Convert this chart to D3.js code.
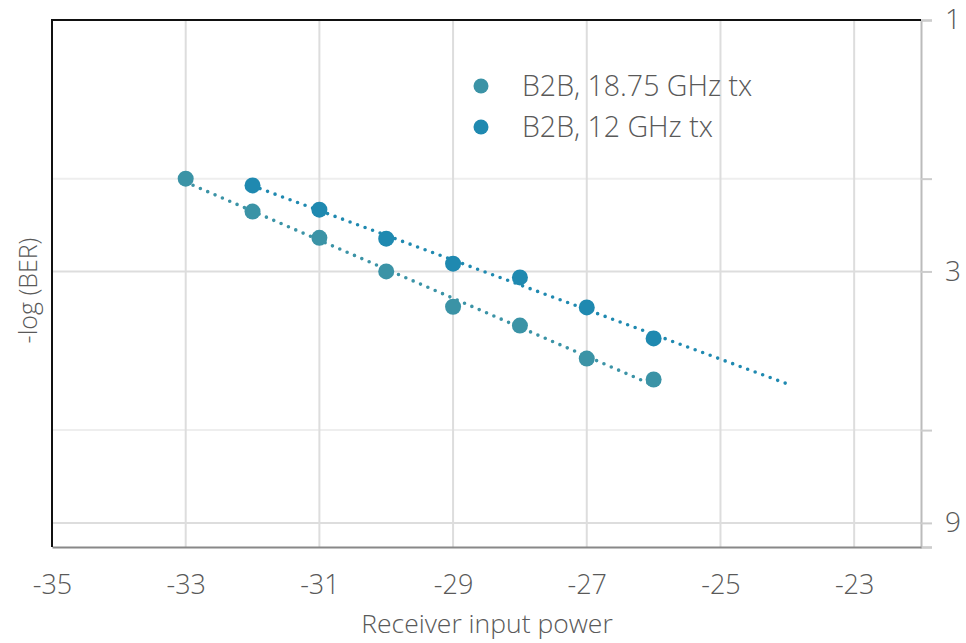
<!DOCTYPE html>
<html>
<head>
<meta charset="utf-8">
<script src="https://cdn.jsdelivr.net/npm/d3@7"></script>
<style>
	body{margin:0;background:#fff;}
	svg text{font-family:"Open Sans", Lato, sans-serif;font-weight:300;fill:#595959;}
</style>
</head>
<body>
<div id="chart"></div>
<script>
//data
let powers18 = [-33, -32, -31, -30, -29, -28, -27, -26];
let ber18 = [2.0, 2.31, 2.59, 3.0, 3.5, 3.8, 4.39, 4.81];

let powers12 = [-32, -31, -30, -29, -28, -27, -26];
let ber12 = [2.06, 2.29, 2.6, 2.9, 3.08, 3.51, 4.02];

let seriesNames = ["B2B, 18.75 GHz tx", "B2B, 12 GHz tx"];
let seriesColors = ["#3b93a6", "#1f89b0"];

let xTicks = [-35, -33, -31, -29, -27, -25, -23];
let yTicks = [1, 2, 3, 6, 9, 10];
let yLabels = [1, 3, 9];

//how far each trendline runs
let trendEnds = [[-33, -26], [-32, -24]];

function graph(){

	let width = 966;
	let height = 643;
	let margin = {top:20, right:45, bottom:96, left:52};

	let svg = d3.select("#chart")
		.append("svg")
		.attr("width", width)
		.attr("height", height);

	const xScale = d3.scaleLinear()
		.domain([-35, -22])
		.range([margin.left, width-margin.right]);

	const yScale = d3.scaleLog()
		.domain([1, 10])
		.range([margin.top, height-margin.bottom]);

	let x0 = xScale.range()[0], x1 = xScale.range()[1];
	let y0 = yScale.range()[0], y1 = yScale.range()[1];

	//horizontal grid
	svg.append("g")
		.selectAll("line")
		.data([2, 3, 6, 9])
		.enter()
		.append("line")
		.attr("x1", x0).attr("x2", x1)
		.attr("y1", d=>yScale(d)).attr("y2", d=>yScale(d))
		.attr("stroke", d=> (d==2 || d==6) ? "#eeeeee" : "#dddddd")
		.attr("stroke-width", 2);

	//vertical grid
	svg.append("g")
		.selectAll("line")
		.data(xTicks.slice(1))
		.enter()
		.append("line")
		.attr("x1", d=>xScale(d)).attr("x2", d=>xScale(d))
		.attr("y1", y0).attr("y2", y1)
		.attr("stroke", "#dddddd")
		.attr("stroke-width", 2);

	//right axis
	const yAxis = d3.axisRight(yScale)
		.tickValues(yTicks)
		.tickSize(11)
		.tickPadding(13)
		.tickFormat(d=> yLabels.includes(d) ? String(d) : "");

	let ya = svg.append("g")
		.attr("class", "axis y_axis")
		.attr("transform", `translate(${x1},0)`)
		.call(yAxis);
	ya.select(".domain").attr("stroke", "#bbbbbb").attr("stroke-width", 2);
	ya.selectAll(".tick line").attr("stroke", "#cccccc").attr("stroke-width", 2);
	ya.selectAll("text").style("font-size", "28px").attr("fill", "#595959");

	//bottom axis, plain hyphen for the minus
	const xAxis = d3.axisBottom(xScale)
		.tickValues(xTicks)
		.tickSize(0)
		.tickPadding(28)
		.tickFormat(d=>String(d));

	let xa = svg.append("g")
		.attr("class", "axis x_axis")
		.attr("transform", `translate(0,${y1})`)
		.call(xAxis);
	xa.select(".domain").attr("stroke", "#888888").attr("stroke-width", 2);
	xa.selectAll("text").style("font-size", "27px").attr("fill", "#595959");

	//black top & left frame
	svg.append("path")
		.attr("d", `M${x0},${y1}V${y0}H${x1}`)
		.attr("fill", "none")
		.attr("stroke", "#111")
		.attr("stroke-width", 2);

	//axis titles
	svg.append("text")
		.attr("x", 487)
		.attr("y", 633)
		.attr("text-anchor", "middle")
		.style("font-size", "26.5px")
		.text("Receiver input power");

	svg.append("text")
		.attr("transform", `translate(37,${(y0+y1)/2 + 7}) rotate(-90)`)
		.attr("text-anchor", "middle")
		.style("font-size", "25px")
		.text("-log (BER)");

	//exponential trend (linear fit in log space)
	function fit(xs, ys){
		let ly = ys.map(v=>Math.log10(v));
		let mx = d3.mean(xs), my = d3.mean(ly);
		let sxy = d3.sum(xs, (x,i)=>(x-mx)*(ly[i]-my));
		let sxx = d3.sum(xs, x=>(x-mx)*(x-mx));
		let b = sxy/sxx;
		return x=>Math.pow(10, my + b*(x-mx));
	}

	let series = [
		{x:powers18, y:ber18},
		{x:powers12, y:ber12}
	];

	series.forEach((s, k)=>{
		let f = fit(s.x, s.y);
		let ends = trendEnds[k];
		svg.append("line")
			.attr("x1", xScale(ends[0])).attr("y1", yScale(f(ends[0])))
			.attr("x2", xScale(ends[1])).attr("y2", yScale(f(ends[1])))
			.attr("stroke", seriesColors[k])
			.attr("stroke-width", 3.6)
			.attr("stroke-linecap", "round")
			.attr("stroke-dasharray", "0 8");
	});

	series.forEach((s, k)=>{
		svg.append("g")
			.selectAll("circle")
			.data(s.x.map((x,i)=>({x:x, y:s.y[i]})))
			.enter()
			.append("circle")
			.attr("cx", d=>xScale(d.x))
			.attr("cy", d=>yScale(d.y))
			.attr("r", 8)
			.attr("fill", seriesColors[k]);
	});

	//legend
	let legend = svg.append("g")
		.attr("transform", "translate(481,86)");

	seriesNames.forEach((name, i)=>{
		legend.append("circle")
			.attr("cx", 0)
			.attr("cy", i*41)
			.attr("r", 7.5)
			.attr("fill", seriesColors[i]);
		legend.append("text")
			.attr("x", 41)
			.attr("y", i*41 + 10)
			.style("font-size", "28.5px")
			.text(name);
	});

} //function graph

graph();
</script>
</body>
</html>
